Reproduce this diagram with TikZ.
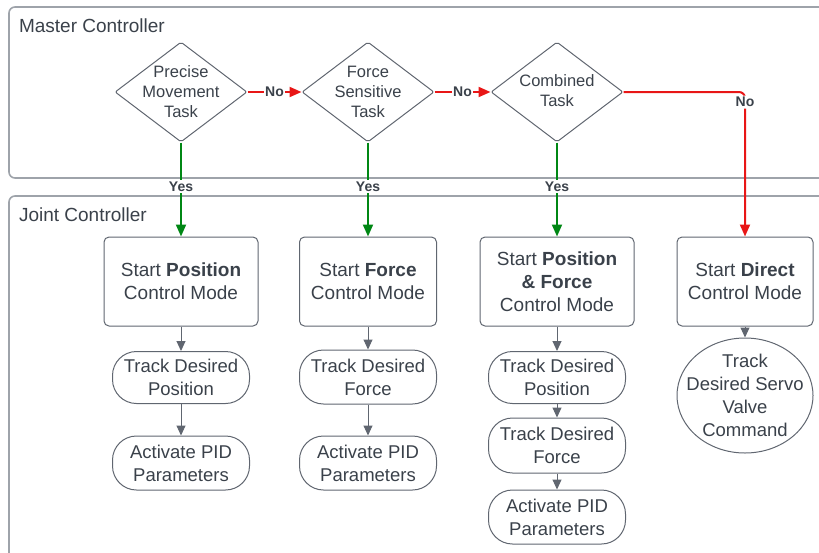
\documentclass[tikz,border=0pt]{standalone}
\usepackage{fontspec}
\setmainfont{Liberation Sans}
\definecolor{textgray}{RGB}{58,65,74}
\definecolor{linegray}{RGB}{96,102,112}
\definecolor{framegray}{RGB}{158,163,170}
\definecolor{yesgreen}{RGB}{0,135,20}
\definecolor{nored}{RGB}{232,22,22}
\usetikzlibrary{shapes,arrows.meta,calc}

\tikzset{
    decision/.style={diamond, draw=linegray, line width=0.5pt, minimum width=66pt,
        minimum height=50pt, inner sep=0pt, rounded corners=1pt},
    dtext/.style={align=center, text=textgray, font=\fontsize{8.25}{10}\selectfont},
    modebox/.style={rectangle, draw=linegray, line width=0.5pt, rounded corners=2.5pt,
        minimum height=44.5pt, align=center, text=textgray,
        font=\fontsize{9.5}{11.5}\selectfont},
    trackbox/.style={rectangle, draw=linegray, line width=0.5pt, rounded corners=12pt,
        minimum width=68.5pt, minimum height=26pt, inner sep=0pt, align=center,
        text=textgray, font=\fontsize{9.25}{11.5}\selectfont},
    servo/.style={ellipse, draw=linegray, line width=0.5pt, minimum width=68pt,
        minimum height=57.5pt, inner xsep=-5.5pt, inner ysep=-2.7pt, align=center,
        text=textgray, font=\fontsize{9.25}{11.5}\selectfont},
    lbl/.style={fill=white, inner sep=0.8pt, text=textgray,
        font=\fontsize{7}{8}\selectfont\bfseries},
    yesarrow/.style={draw=yesgreen, line width=1pt, -{Triangle[width=5pt,length=6pt]}},
    noarrow/.style={draw=nored, line width=1pt, -{Triangle[width=5pt,length=6pt]}},
    flow/.style={draw=linegray, line width=0.5pt, -{Triangle[width=4.5pt,length=5pt]}}
}

\begin{document}
\begin{tikzpicture}[x=0.5pt,y=-0.5pt]
    \useasboundingbox (0,0) rectangle (819,552);

    % Swim lanes
    \draw[framegray, line width=0.8pt, rounded corners=3pt] (830,7) -- (9,7) -- (9,178) -- (830,178);
    \draw[framegray, line width=0.8pt, rounded corners=3pt] (830,196) -- (9,196) -- (9,570);
    \node[anchor=west, text=textgray, font=\fontsize{9.5}{11.5}\selectfont] (mastertitle) at (12,26) {Master Controller};
    \node[anchor=west, text=textgray, font=\fontsize{9.5}{11.5}\selectfont] (jointtitle) at (12,215) {Joint Controller};

    % Decisions
    \node[decision, label={[dtext]center:Precise\\Movement\\Task}] (precise) at (181,92) {};
    \node[decision, label={[dtext]center:Force\\Sensitive\\Task}] (sensitive) at (368,92) {};
    \node[decision, label={[dtext]center:Combined\\Task\vphantom{g}}] (combined) at (557,92) {};

    % Control modes
    \node[modebox, minimum width=77pt] (posmode) at (181,281.5) {Start \textbf{Position}\\Control Mode};
    \node[modebox, minimum width=68.5pt] (forcemode) at (368,281.5) {Start \textbf{Force}\\Control Mode};
    \node[modebox, minimum width=77pt] (hybmode) at (557,281.5) {Start \textbf{Position}\\\textbf{\& Force}\\Control Mode};
    \node[modebox, minimum width=68pt] (directmode) at (745,281.5) {Start \textbf{Direct}\\Control Mode};

    % Position column
    \node[trackbox] (postrack) at (181,377.5) {Track Desired\\Position};
    \node[trackbox, minimum height=27pt] (pospid) at (181,463) {Activate PID\\Parameters};

    % Force column
    \node[trackbox, minimum height=27pt] (forcetrack) at (368,377) {Track Desired\\Force};
    \node[trackbox, minimum height=27pt] (forcepid) at (368,463) {Activate PID\\Parameters};

    % Position & force column
    \node[trackbox] (hybpos) at (557,377.5) {Track Desired\\Position};
    \node[trackbox, minimum height=27.5pt] (hybforce) at (557,445.5) {Track Desired\\Force};
    \node[trackbox, minimum height=27pt] (hybpid) at (557,517) {Activate PID\\Parameters};

    % Direct column
    \node[servo] (servotrack) at (745,395.5) {Track\\Desired Servo\\Valve\\Command};

    % Decision arrows
    \coordinate (corner) at (directmode.north |- combined.east);
    \draw[noarrow] (precise.east) -- node[lbl] {No} (sensitive.west);
    \draw[noarrow] (sensitive.east) -- node[lbl] {No} (combined.west);
    \draw[noarrow, rounded corners=3pt] (combined.east) -- (corner) -- node[lbl, pos=0.07] {No} (directmode.north);
    \draw[yesarrow] (precise.south) -- node[lbl, pos=0.47] {Yes} (posmode.north);
    \draw[yesarrow] (sensitive.south) -- node[lbl, pos=0.47] {Yes} (forcemode.north);
    \draw[yesarrow] (combined.south) -- node[lbl, pos=0.47] {Yes} (hybmode.north);

    % Joint flow
    \draw[flow] (posmode) -- (postrack);
    \draw[flow] (postrack) -- (pospid);
    \draw[flow] (forcemode) -- (forcetrack);
    \draw[flow] (forcetrack) -- (forcepid);
    \draw[flow] (hybmode) -- (hybpos);
    \draw[flow] (hybpos) -- (hybforce);
    \draw[flow] (hybforce) -- (hybpid);
    \draw[flow] (directmode) -- (servotrack);
\end{tikzpicture}
\end{document}
